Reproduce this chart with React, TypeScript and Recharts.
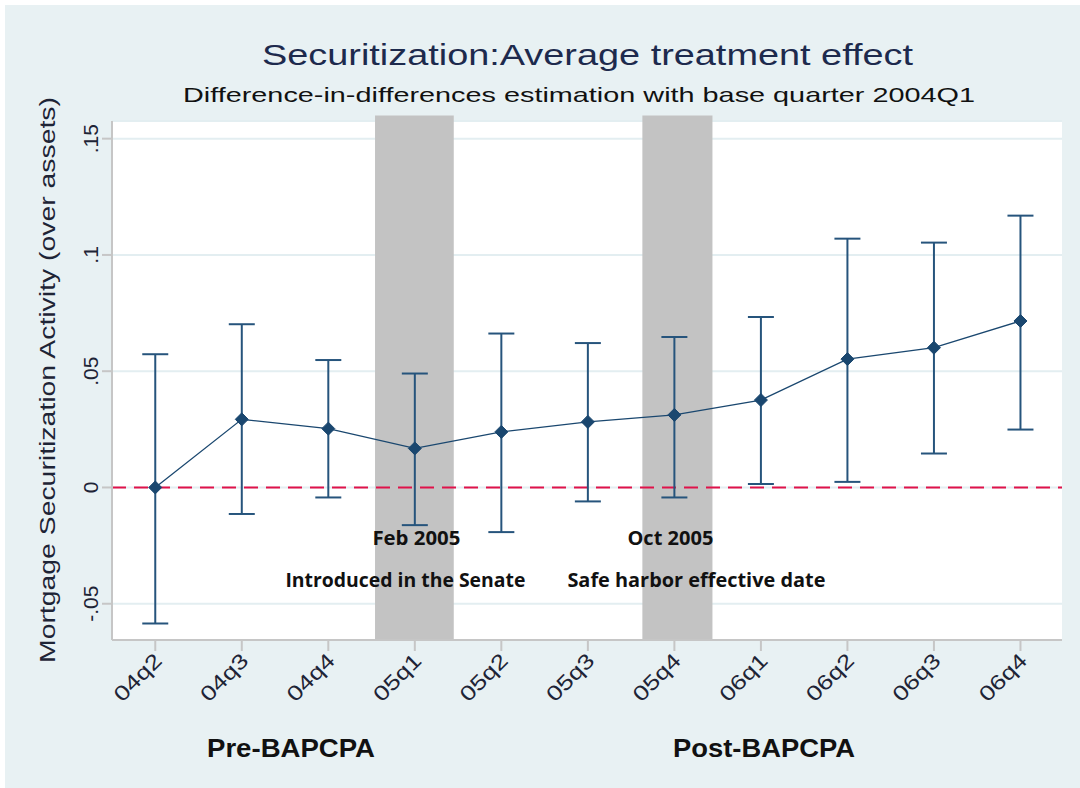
import {
  ComposedChart,
  Line,
  XAxis,
  YAxis,
  CartesianGrid,
  ReferenceArea,
  ReferenceLine,
  ErrorBar,
} from 'recharts';

const quarters = ['04q2', '04q3', '04q4', '05q1', '05q2', '05q3', '05q4', '06q1', '06q2', '06q3', '06q4'];
const estimate = [0, 0.0293, 0.0253, 0.0168, 0.0239, 0.0282, 0.0312, 0.0376, 0.0552, 0.0601, 0.0716];
const ciLower = [-0.0585, -0.0114, -0.0043, -0.0162, -0.0192, -0.006, -0.0043, 0.0015, 0.0024, 0.0146, 0.0249];
const ciUpper = [0.0573, 0.0702, 0.0548, 0.049, 0.0662, 0.0621, 0.0647, 0.0733, 0.107, 0.1053, 0.1169];
const yTicks = [-0.05, 0, 0.05, 0.1, 0.15];

// event windows (in quarter-index units) and their notes
const bandStart = [2.54, 5.63];
const bandEnd = [3.45, 6.44];
const bandDates = ['Feb 2005', 'Oct 2005'];
const bandNotes = ['Introduced in the Senate', 'Safe harbor effective date'];

const data = quarters.map((q, i) => ({
  idx: i,
  quarter: q,
  est: estimate[i],
  err: [estimate[i] - ciLower[i], ciUpper[i] - estimate[i]],
}));

const navy = '#1a476f';
const textColor = '#1e2436';
const font = '"Liberation Sans", Arial, sans-serif';
const yDomain = [-0.0656, 0.1576];

function Diamond({ cx, cy }: any) {
  if (cx == null || cy == null) return null;
  const r = 6.5;
  return (
    <polygon
      points={`${cx},${cy - r} ${cx + r},${cy} ${cx},${cy + r} ${cx - r},${cy}`}
      fill={navy}
      stroke={navy}
    />
  );
}

function XTick({ x, y, payload }: any) {
  return (
    <text
      x={x + 8}
      y={y + 9}
      transform={`rotate(-45, ${x + 8}, ${y + 9})`}
      textAnchor="end"
      fontSize={21}
      fontFamily={font}
      fill={textColor}
      textLength={58}
      lengthAdjust="spacingAndGlyphs"
    >
      {quarters[payload.value]}
    </text>
  );
}

const fmtY = (v: number) => (v === 0 ? '0' : String(v).replace('0.', '.'));

function YTick({ x, y, payload }: any) {
  return (
    <text
      x={x - 2}
      y={y}
      transform={`rotate(-90, ${x - 2}, ${y})`}
      textAnchor="middle"
      fontSize={21}
      fontFamily={font}
      fill={textColor}
    >
      {fmtY(payload.value)}
    </text>
  );
}

function BandNote({ viewBox, date, note, dateShift, noteShift, dateLen, noteLen }: any) {
  if (!viewBox) return null;
  const cx = viewBox.x + viewBox.width / 2;
  const bottom = viewBox.y + viewBox.height;
  return (
    <g fontFamily='"Open Sans", "Noto Sans", sans-serif' fontWeight={700} fontSize={19} fill="#111">
      <text x={cx + dateShift} y={bottom - 95} textAnchor="middle" textLength={dateLen} lengthAdjust="spacingAndGlyphs">
        {date}
      </text>
      <text x={cx + noteShift} y={bottom - 53} textAnchor="middle" textLength={noteLen} lengthAdjust="spacingAndGlyphs">
        {note}
      </text>
    </g>
  );
}

const noteLayout = [
  { dateShift: 2, noteShift: -9, dateLen: 88, noteLen: 240 },
  { dateShift: -7, noteShift: 19, dateLen: 86, noteLen: 258 },
];

export default function App() {
  return (
    <div style={{ position: 'absolute', left: 0, top: 0, width: 1080, height: 788, background: '#fff' }}>
      <div style={{ position: 'absolute', left: 5, top: 5, width: 1075, height: 783, background: '#e8f1f3' }} />
      <div style={{ position: 'absolute', left: 0, top: 0 }}>
        <ComposedChart width={1080} height={788} data={data} margin={{ top: 121, right: 18, bottom: 0, left: 0 }}>
          <CartesianGrid vertical={false} stroke="#e3eef1" strokeWidth={2} fill="#ffffff" />
          <XAxis
            type="number"
            dataKey="idx"
            domain={[-0.5, 10.48]}
            ticks={quarters.map((_, i) => i)}
            interval={0}
            height={148}
            tickSize={11}
            tickMargin={2}
            axisLine={{ stroke: '#c6c6c6', strokeWidth: 2 }}
            tickLine={{ stroke: '#c6c6c6', strokeWidth: 2 }}
            tick={<XTick />}
          />
          <YAxis
            type="number"
            domain={yDomain}
            ticks={yTicks}
            interval={0}
            width={112}
            tickSize={10}
            tickMargin={2}
            axisLine={{ stroke: '#c6c6c6', strokeWidth: 2 }}
            tickLine={{ stroke: '#c6c6c6', strokeWidth: 2 }}
            tick={<YTick />}
          />
          {bandStart.map((s, i) => (
            <ReferenceArea
              key={i}
              x1={s}
              x2={bandEnd[i]}
              y1={yDomain[0]}
              y2={0.16}
              ifOverflow="visible"
              fill="#c3c3c3"
              fillOpacity={1}
              stroke="none"
              label={<BandNote date={bandDates[i]} note={bandNotes[i]} {...noteLayout[i]} />}
            />
          ))}
          <ReferenceLine y={0} stroke="#e0124a" strokeWidth={2} strokeDasharray="14 8" />
          <Line
            dataKey="est"
            type="linear"
            stroke={navy}
            strokeWidth={1.3}
            dot={<Diamond />}
            activeDot={false}
            isAnimationActive={false}
          >
            <ErrorBar dataKey="err" direction="y" width={13} stroke="#26547c" strokeWidth={2} isAnimationActive={false} />
          </Line>
        </ComposedChart>
      </div>
      <svg
        width={1080}
        height={788}
        style={{ position: 'absolute', left: 0, top: 0, pointerEvents: 'none' }}
        fontFamily={font}
      >
        <text x={587.5} y={65} textAnchor="middle" fontSize={30} fill="#1d2a4d" textLength={651} lengthAdjust="spacingAndGlyphs">
          Securitization:Average treatment effect
        </text>
        <text x={579} y={102} textAnchor="middle" fontSize={21} fill="#111" textLength={792} lengthAdjust="spacingAndGlyphs">
          Difference-in-differences estimation with base quarter 2004Q1
        </text>
        <text
          x={55}
          y={380}
          transform="rotate(-90, 55, 380)"
          textAnchor="middle"
          fontSize={22}
          fill={textColor}
          textLength={566}
          lengthAdjust="spacingAndGlyphs"
        >
          Mortgage Securitization Activity (over assets)
        </text>
        <text x={291} y={757} textAnchor="middle" fontSize={26} fontWeight={700} fill="#111" textLength={168} lengthAdjust="spacingAndGlyphs">
          Pre-BAPCPA
        </text>
        <text x={764} y={757} textAnchor="middle" fontSize={26} fontWeight={700} fill="#111" textLength={182} lengthAdjust="spacingAndGlyphs">
          Post-BAPCPA
        </text>
      </svg>
    </div>
  );
}
